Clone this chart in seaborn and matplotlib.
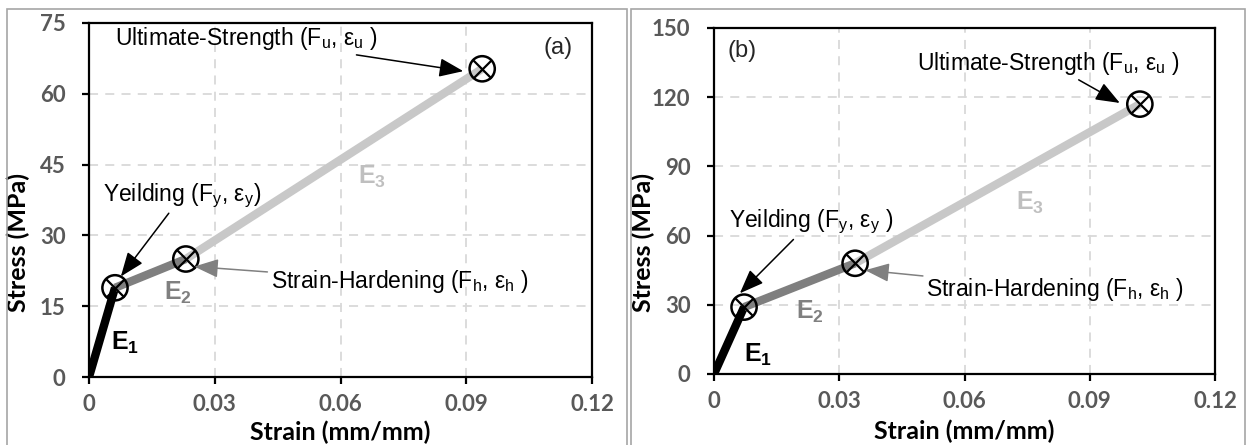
import matplotlib
matplotlib.use("Agg")
import matplotlib.pyplot as plt
from matplotlib.patches import Rectangle
import seaborn as sns
import pandas as pd

# ---------------- data ----------------
segments = ["E1", "E2", "E3"]
strain_a = [0.0, 0.0062, 0.0231, 0.0938]
stress_a = [0.0, 18.9, 25.0, 65.3]
strain_b = [0.0, 0.0072, 0.0338, 0.102]
stress_b = [0.0, 29.0, 48.0, 117.0]
xticks = [0, 0.03, 0.06, 0.09, 0.12]
xtick_labels = ["0", "0.03", "0.06", "0.09", "0.12"]
yticks_a = [0, 15, 30, 45, 60, 75]
yticks_b = [0, 30, 60, 90, 120, 150]

sns.set_theme(style="white")
plt.rcParams["font.family"] = ["Liberation Sans", "DejaVu Sans"]
plt.rcParams["mathtext.fontset"] = "custom"
plt.rcParams["mathtext.rm"] = "Liberation Sans"
plt.rcParams["mathtext.bf"] = "Liberation Sans:bold"
plt.rcParams["mathtext.it"] = "Liberation Sans:italic"

seg_colors = {"E1": "#000000", "E2": "#7f7f7f", "E3": "#c8c8c8"}
label_colors = ["#000000", "#808080", "#bfbfbf"]
TICK_COL = "#595959"

fig = plt.figure(figsize=(12.48, 4.45), dpi=100)
W, H = 1248, 445

# panel frames
fig.patches.append(Rectangle((7 / W, -0.01), (627 - 7) / W, 1 - 9 / H + 0.01,
                             transform=fig.transFigure, fill=False,
                             edgecolor="#a6a6a6", lw=1.2))
fig.patches.append(Rectangle((631 / W, -0.01), (1245 - 631) / W, 1 - 9 / H + 0.01,
                             transform=fig.transFigure, fill=False,
                             edgecolor="#a6a6a6", lw=1.2))

ax_a = fig.add_axes([89 / W, 1 - 377 / H, (592 - 89) / W, (377 - 23) / H])
ax_b = fig.add_axes([714 / W, 1 - 374 / H, (1215 - 714) / W, (374 - 28) / H])


def seg_frame(xs, ys):
    rows = []
    for i, s in enumerate(segments):
        rows.append({"seg": s, "order": 2 * i, "strain": xs[i], "stress": ys[i]})
        rows.append({"seg": s, "order": 2 * i + 1, "strain": xs[i + 1], "stress": ys[i + 1]})
    return pd.DataFrame(rows)


def draw(ax, xs, ys, yticks, cfg):
    ymax = yticks[-1]
    ax.set_xlim(0, 0.12)
    ax.set_ylim(0, ymax)
    ax.set_xticks(xticks)
    ax.set_xticklabels(xtick_labels)
    ax.set_yticks(yticks)
    ax.grid(True, color="#d9d9d9", ls=(0, (5, 4)), lw=1.3)
    ax.set_axisbelow(True)
    for sp in ax.spines.values():
        sp.set_visible(True)
        sp.set_color("black")
        sp.set_linewidth(1.6)
    ax.tick_params(axis="both", direction="out", length=5, width=1.6, color="black",
                   labelsize=16, labelcolor=TICK_COL, bottom=True, left=True)
    ax.tick_params(axis="x", pad=7)
    ax.tick_params(axis="y", pad=12)
    for lab in ax.get_xticklabels() + ax.get_yticklabels():
        lab.set_fontfamily("Lato")
        lab.set_fontweight("bold")

    df = seg_frame(xs, ys)
    sns.lineplot(data=df, x="strain", y="stress", hue="seg", palette=seg_colors,
                 sort=False, lw=6, legend=False, ax=ax, estimator=None,
                 solid_capstyle="butt", zorder=3)
    pts = pd.DataFrame({"strain": xs[1:], "stress": ys[1:]})
    sns.scatterplot(data=pts, x="strain", y="stress", s=330, marker="o",
                    facecolor="none", edgecolor="black", linewidth=1.8, ax=ax, zorder=5)
    sns.scatterplot(data=pts, x="strain", y="stress", s=170, marker="x",
                    color="black", linewidth=1.6, ax=ax, zorder=6)

    xl = ax.set_xlabel("Strain (mm/mm)", fontsize=18, fontweight="bold", family="Lato",
                       color="black")
    xl.set_va("center")
    ax.xaxis.set_label_coords(0.5, cfg["xlab_y"])
    ax.set_ylabel("Stress (MPa)", fontsize=18, fontweight="bold", family="Lato",
                  color="black")
    ax.yaxis.set_label_coords(-0.117, 0.38)

    # E labels
    for (lx, ly), name, col in zip(cfg["E"], ["1", "2", "3"], label_colors):
        ax.text(lx, ly, "E$_\\mathbf{%s}$" % name, fontsize=18, fontweight="bold",
                color=col, ha="center", va="center", zorder=7)

    ax.text(*cfg["panel"][0], cfg["panel"][1], fontsize=17, ha="center", va="center")

    for txt, (tx, ty), (hx, hy), col in cfg["ann"]:
        ax.annotate(txt, xy=(hx, hy), xytext=(tx, ty), fontsize=16.5,
                    ha="center", va="center", color="black",
                    arrowprops=dict(arrowstyle="-|>,head_length=0.9,head_width=0.35",
                                    color=col, lw=1.1, shrinkA=0, shrinkB=0),
                    zorder=8)


cfg_a = {
    "xlab_y": -0.155,
    "E": [(0.0085, 7.2), (0.0212, 17.8), (0.0675, 42.4)],
    "panel": ((0.1118, 69.7), "(a)"),
    "ann": [
        ("Ultimate-Strength (F$_\\mathrm{u}$, ε$_\\mathrm{u}$ )", (0.0375, 71.8), (0.0893, 64.8), "black"),
        ("Yeilding (F$_\\mathrm{y}$, ε$_\\mathrm{y}$)", (0.0222, 38.4), (0.0076, 21.3), "black"),
        ("Strain-Hardening (F$_\\mathrm{h}$, ε$_\\mathrm{h}$ )", (0.0741, 20.2), (0.0251, 23.4), "#808080"),
    ],
}
cfg_b = {
    "xlab_y": -0.167,
    "E": [(0.0106, 8.2), (0.023, 27.0), (0.0757, 74.0)],
    "panel": ((0.0067, 140.0), "(b)"),
    "ann": [
        ("Ultimate-Strength (F$_\\mathrm{u}$, ε$_\\mathrm{u}$ )", (0.0802, 134.8), (0.0972, 117.5), "black"),
        ("Yeilding (F$_\\mathrm{y}$, ε$_\\mathrm{y}$ )", (0.0232, 65.9), (0.0062, 35.0), "black"),
        ("Strain-Hardening (F$_\\mathrm{h}$, ε$_\\mathrm{h}$ )", (0.0817, 36.8), (0.0362, 45.0), "#808080"),
    ],
}

draw(ax_a, strain_a, stress_a, yticks_a, cfg_a)
draw(ax_b, strain_b, stress_b, yticks_b, cfg_b)

fig.savefig("out.png", dpi=100)
